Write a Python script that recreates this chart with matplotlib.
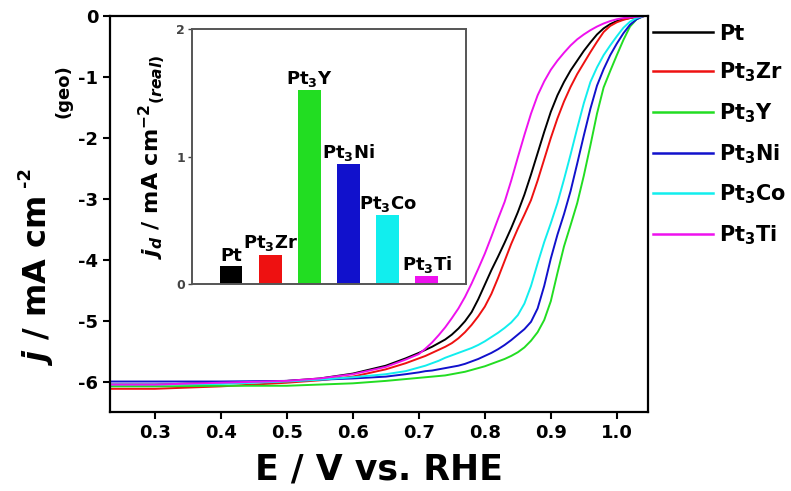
import numpy as np
import matplotlib
matplotlib.use("Agg")
import matplotlib.pyplot as plt
from matplotlib.lines import Line2D

plt.rcParams['font.family'] = ['DejaVu Sans']
plt.rcParams['font.weight'] = 'bold'
plt.rcParams['axes.labelweight'] = 'bold'
plt.rcParams['mathtext.fontset'] = 'custom'
plt.rcParams['mathtext.rm'] = 'DejaVu Sans:bold'
plt.rcParams['mathtext.it'] = 'DejaVu Sans:bold:italic'
plt.rcParams['mathtext.bf'] = 'DejaVu Sans:bold'
plt.rcParams['axes.unicode_minus'] = False

# ---------------- polarization curves (E vs RHE in V, j in mA cm-2)
E = [0.23, 0.30, 0.40, 0.50, 0.55, 0.60, 0.65, 0.68,
     0.70, 0.71, 0.72, 0.73, 0.74, 0.75, 0.76, 0.77, 0.78, 0.79,
     0.80, 0.81, 0.82, 0.83, 0.84, 0.85, 0.86, 0.87, 0.88, 0.89,
     0.90, 0.91, 0.92, 0.93, 0.94, 0.95, 0.96, 0.97, 0.98, 0.99,
     1.00, 1.01, 1.02, 1.03, 1.04]
j_pt = [-6.05, -6.05, -6.02, -5.99, -5.95, -5.87, -5.74, -5.62,
        -5.53, -5.48, -5.43, -5.37, -5.31, -5.23, -5.13, -5.01, -4.86, -4.65,
        -4.41, -4.17, -3.95, -3.72, -3.48, -3.22, -2.93, -2.60, -2.25, -1.90,
        -1.57, -1.30, -1.08, -0.89, -0.73, -0.57, -0.43, -0.30, -0.20, -0.13,
        -0.08, -0.05, -0.03, -0.01, 0.0]
j_zr = [-6.12, -6.12, -6.08, -6.02, -5.98, -5.92, -5.80, -5.70,
        -5.62, -5.58, -5.53, -5.48, -5.43, -5.37, -5.29, -5.19, -5.07, -4.93,
        -4.77, -4.56, -4.30, -4.02, -3.74, -3.49, -3.26, -3.02, -2.70, -2.35,
        -2.00, -1.68, -1.40, -1.16, -0.95, -0.77, -0.59, -0.42, -0.26, -0.16,
        -0.10, -0.06, -0.03, -0.01, 0.0]
j_y = [-6.08, -6.08, -6.07, -6.07, -6.05, -6.03, -5.99, -5.96,
       -5.94, -5.93, -5.92, -5.91, -5.90, -5.88, -5.86, -5.84, -5.81, -5.78,
       -5.75, -5.71, -5.67, -5.63, -5.58, -5.52, -5.44, -5.33, -5.19, -4.99,
       -4.68, -4.22, -3.78, -3.43, -3.07, -2.62, -2.12, -1.60, -1.17, -0.90,
       -0.64, -0.39, -0.17, -0.05, 0.0]
j_ni = [-6.00, -6.00, -6.00, -5.99, -5.97, -5.95, -5.92, -5.88,
        -5.85, -5.83, -5.82, -5.80, -5.78, -5.76, -5.74, -5.71, -5.67, -5.63,
        -5.58, -5.53, -5.47, -5.40, -5.32, -5.23, -5.14, -5.02, -4.80, -4.43,
        -3.98, -3.59, -3.25, -2.87, -2.42, -1.96, -1.52, -1.14, -0.87, -0.64,
        -0.45, -0.28, -0.14, -0.05, 0.0]
j_co = [-6.05, -6.05, -6.04, -6.00, -5.97, -5.93, -5.88, -5.83,
        -5.77, -5.74, -5.70, -5.66, -5.61, -5.57, -5.53, -5.49, -5.45, -5.40,
        -5.34, -5.27, -5.20, -5.12, -5.03, -4.91, -4.72, -4.43, -4.06, -3.71,
        -3.40, -3.07, -2.68, -2.27, -1.84, -1.43, -1.08, -0.84, -0.64, -0.48,
        -0.33, -0.19, -0.09, -0.03, 0.0]
j_ti = [-6.05, -6.05, -6.02, -5.99, -5.95, -5.88, -5.76, -5.64,
        -5.55, -5.46, -5.36, -5.24, -5.11, -4.96, -4.80, -4.61, -4.39, -4.15,
        -3.90, -3.62, -3.33, -3.05, -2.70, -2.32, -1.95, -1.60, -1.30, -1.07,
        -0.88, -0.73, -0.60, -0.48, -0.38, -0.30, -0.23, -0.17, -0.12, -0.08,
        -0.05, -0.03, -0.02, -0.01, 0.0]

names = ['Pt', 'Pt$_3$Zr', 'Pt$_3$Y', 'Pt$_3$Ni', 'Pt$_3$Co', 'Pt$_3$Ti']
colors = ['#000000', '#ee1111', '#22dd22', '#1111cc', '#11eeee', '#ee11ee']
curves = [j_pt, j_zr, j_y, j_ni, j_co, j_ti]

# ---------------- inset: diffusion-limited current density (real area)
jd = [0.14, 0.23, 1.52, 0.94, 0.54, 0.06]

fig = plt.figure(figsize=(7.91, 4.91), dpi=100)
ax = fig.add_axes([0.139, 0.161, 0.680, 0.806])

for jj, c, n in zip(curves, colors, names):
    ax.plot(E, jj, color=c, lw=1.4, label=n)

ax.set_xlim(0.232, 1.047)
ax.set_ylim(-6.5, 0)
ax.set_xticks([0.3, 0.4, 0.5, 0.6, 0.7, 0.8, 0.9, 1.0])
ax.set_yticks([0, -1, -2, -3, -4, -5, -6])
ax.set_yticklabels(['0', '-1', '-2', '-3', '-4', '-5', '-6'])
ax.tick_params(direction='out', length=5, width=1.5, labelsize=13)
for s in ax.spines.values():
    s.set_linewidth(1.6)
ax.set_xlabel('E / V vs. RHE', fontsize=25, labelpad=8)

# y label in pieces so the exponent and the (geo) tag stay small
fig.text(0.047, 0.427, r'$\it{j}$ / mA cm', rotation=90, ha='center',
         va='center', fontsize=23)
fig.text(0.031, 0.640, '-2', rotation=90, ha='center', va='center', fontsize=13)
fig.text(0.080, 0.815, '(geo)', rotation=90, ha='center', va='center',
         fontsize=13)

handles = [Line2D([], [], color=c, lw=1.8) for c in colors]
fig.legend(handles, names, loc='upper left', bbox_to_anchor=(0.825, 0.952),
           frameon=False, fontsize=15, handlelength=2.9, handletextpad=0.3,
           labelspacing=0.82, borderpad=0, borderaxespad=0)

# ---------------- inset bar chart
ins = fig.add_axes([0.2427, 0.4216, 0.3464, 0.519])
pos = np.arange(len(jd))
ins.bar(pos, jd, width=0.58, color=colors)
for p, v, n in zip(pos, jd, names):
    ins.annotate(n, (p, v), xytext=(0, 1), textcoords='offset points',
                 ha='center', va='bottom', fontsize=13)
ins.set_xlim(-1, 6)
ins.set_ylim(0, 2)
ins.set_xticks([])
ins.set_yticks([0, 1, 2])
ins.tick_params(axis='y', direction='out', length=3, width=1, labelsize=9,
                colors='#444444', pad=2)
for s in ins.spines.values():
    s.set_linewidth(1.4)
    s.set_color('#555555')
ins.set_ylabel(r'$\it{j_d}$ / mA cm$^{-2}{}_{(real)}$', fontsize=16, labelpad=7)

fig.savefig('out.png', dpi=100)
